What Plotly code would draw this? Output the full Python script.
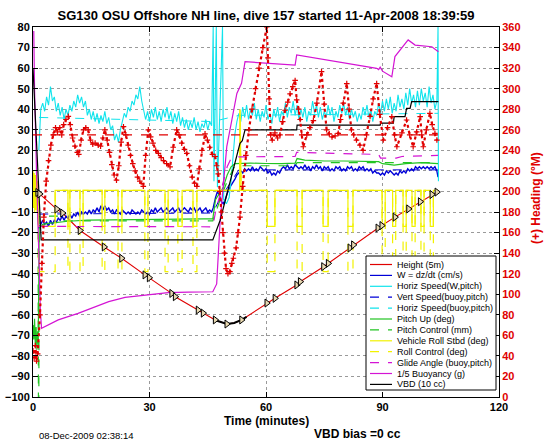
import plotly.graph_objects as go

# ---------------- data ----------------
depth_pts = [(0.2,0),(1.2,-0.5),(1.7,-1.2),(6.1,-8.6),(7.6,-10.5),(12.1,-19),(18.3,-27),(22.8,-32.5),
             (28.8,-40.6),(29.9,-42),(35.7,-49.6),(36.6,-51.2),(42.5,-57.7),(43.8,-59.2),(46.9,-62.5),
             (49.9,-64.5),(51.8,-64),(53.7,-62.5),(60.2,-54.3),(62.3,-52),(67.9,-45.5),(68.8,-43.9),
             (74.8,-36.6),(76,-35),(81.6,-27.5),(82.5,-26),(88.8,-17.8),(89.8,-16.6),(93.2,-12.5),
             (96.7,-8.5),(99.7,-5),(102.7,-1.5),(104.3,0)]
depth_marks = [(1.2,-0.5),(1.7,-1.2),(6.1,-8.6),(7.6,-10.5),(12.1,-19),(18.3,-27),(22.8,-32.5),
               (28.8,-40.6),(29.9,-42),(35.7,-49.6),(36.6,-51.2),(42.5,-57.7),(43.8,-59.2),(46.9,-62.5),
               (49.9,-64.5),(53.7,-62.5),(60.2,-54.3),(62.3,-52),(67.9,-45.5),(68.8,-43.9),(74.8,-36.6),
               (76,-35),(81.6,-27.5),(82.5,-26),(88.8,-17.8),(89.8,-16.6),(93.2,-12.5),(96.7,-8.5),
               (99.7,-5),(102.7,-1.5),(104.0,-0.3)]
bottom_pts = [(46.4,-62.3),(49.9,-64.5),(51.8,-64),(53.7,-62.5),(55,-61)]

w_t = [1,1.5,2,2.5,3,3.5,4,4.5,5,5.5,6,6.5,7,7.5,8,8.5,9,9.5,10,10.5,11,11.5,12,12.5,13,13.5,14,14.5,15,15.5,
       16,16.5,17,17.5,18,18.5,19,19.5,20,20.5,21,21.5,22,22.5,23,23.5,24,24.5,25,25.5,26,26.5,27,27.5,28,28.5,
       29,29.5,30,30.5,31,31.5,32,32.5,33,33.5,34,34.5,35,35.5,36,36.5,37,37.5,38,38.5,39,39.5,40,40.5,41,41.5,
       42,42.5,43,43.5,44,44.5,45,45.5,46,46.4,47,47.5,48,48.5,49,49.5,50,51,52,52.5,
       53,53.5,54,54.5,55,55.5,56,56.5,57,57.5,58,58.5,59,59.5,60,60.5,61,61.5,62,62.5,63,63.5,64,64.5,65,65.5,
       66,66.5,67,67.5,68,68.5,69,69.5,70,70.5,71,71.5,72,72.5,73,73.5,74,74.5,75,75.5,76,76.5,77,77.5,78,78.5,
       79,79.5,80,80.5,81,81.5,82,82.5,83,83.5,84,84.5,85,85.5,86,86.5,87,87.5,88,88.5,89,89.5,90,90.5,91,91.5,
       92,92.5,93,93.5,94,94.5,95,95.5,96,96.5,97,97.5,98,98.5,99,99.5,100,100.5,101,101.5,102,102.5,103,103.5,
       104,104.3]
w_v = [-4,-18,-16,-14,-16,-15,-17,-14,-16,-14,-15,-13,-14,-12,-14,-12,-13,-11,-13,-11,-12,-10,-12,-10,-11,-10,
       -11,-9,-11,-9,-10,-8,-10,-7,-9,-7,-9,-8,-10,-9,-11,-9,-10,-11,-9,-10,-11,-10,-11,-9,-10,-11,-10,-11,-9,-10,
       -11,-10,-11,-9,-10,-8,-10,-9,-8,-10,-9,-8,-10,-9,-8,-10,-9,-8,-10,-9,-8,-9,-10,-8,-9,-8,-10,-9,-8,-10,-9,
       -8,-10,-9,-10,-8,-3,0,-2,-5,-6,-4,-1,3,6,8,
       9,10,9,11,10,11,10,12,10,11,10,12,11,10,11,9,10,8,9,8,10,9,11,12,11,13,11,12,11,13,12,11,12,11,13,11,12,
       10,12,11,13,11,12,10,12,11,12,10,11,10,12,11,12,10,11,10,12,11,12,10,11,10,12,11,12,10,11,10,11,9,10,9,9,
       8,9,8,10,9,10,9,8,9,8,10,9,10,9,11,10,11,10,12,11,12,11,12,11,12,11,12,11,12,10,7]

cyan_t = [1.5,2,2.5,3,3.5,4,4.5,5,5.5,6,6.5,7,7.5,8,8.5,9,9.5,10,10.5,11,11.5,12,12.5,13,13.5,14,14.5,15,15.5,
          16,16.5,17,17.5,18,18.5,19,19.5,20,20.5,21,21.5,22,22.5,23,23.5,24,24.5,25,25.5,26,26.5,27,27.5,28,
          28.5,29,29.5,30,30.5,31,31.5,32,32.5,33,33.5,34,34.5,35,35.5,36,36.5,37,37.5,38,38.5,39,39.5,40,40.5,
          41,41.5,42,42.5,43,43.5,44,44.5,45,45.5,46,
          46.4,46.6,47.2,47.5,48.8,49.1,49.8,50.5,51,51.5,52,52.5,
          53,53.5,54,54.5,55,55.5,56,56.5,57,57.5,58,58.5,59,59.5,60,60.5,61,61.5,62,62.5,63,63.5,64,64.5,65,65.5,
          66,66.5,67,67.5,68,68.5,69,69.5,70,70.5,71,71.5,72,72.5,73,73.5,74,74.5,75,75.5,76,76.5,77,77.5,78,78.5,
          79,79.5,80,80.5,81,81.5,82,82.5,83,83.5,84,84.5,85,85.5,86,86.5,87,87.5,88,88.5,89,89.5,90,90.5,91,91.5,
          92,92.5,93,93.5,94,94.5,95,95.5,96,96.5,97,97.5,98,98.5,99,99.5,100,100.5,101,101.5,102,102.5,103,103.5,
          104,104.3,104.4]
cyan_v = [20,40,43,39,46,42,51,44,46,39,43,37,41,35,40,37,42,39,44,41,47,43,46,41,44,37,40,35,39,34,38,33,37,34,
          39,33,36,30,32,25,28,24,30,34,38,36,41,39,44,42,47,45,51,44,40,35,39,34,40,36,41,35,39,34,40,36,41,35,
          39,33,38,34,39,32,36,31,35,30,34,31,36,30,34,29,33,31,35,30,34,32,
          80,5,80,2,80,-4,-6,-3,5,18,28,34,
          38,34,41,36,42,35,40,37,43,35,40,34,39,36,42,35,38,33,40,36,41,34,39,37,43,36,41,38,44,37,42,35,40,36,
          41,34,39,37,44,38,42,36,41,35,39,36,42,37,41,34,39,36,42,38,43,37,41,35,40,36,39,34,38,35,41,37,42,36,
          40,34,39,37,43,38,44,39,45,40,46,38,43,39,47,41,45,40,48,42,50,43,47,41,49,42,50,44,48,41,51,43,47,40,
          44,80,5]

vbuoy_pts = [(1.6,-11),(46.3,-10.5),(48,-4),(50,2),(52,8),(53,10.5),(104.3,10.5)]
hbuoy_pts = [(1.6,36),(46.3,34),(53,37),(104.3,38)]

pitch_pts = [(0,-65),(0.2,-72),(0.4,-62),(0.6,-75),(0.8,-66),(1.0,-77),(1.2,-68),(1.35,-74),(1.6,-18),(2.5,-16),
             (4,-15.5),(6,-15),(9,-14.5),(14,-14),(20,-13.8),(26,-13.6),(32,-13.5),(38,-13.4),(44,-13.3),
             (46.3,-13.3),(47,-4),(48,-1),(49,2),(50,8),(51,12),(52,13.5),(56,13.8),(60,13.6),(64,13.5),
             (67.5,13.8),(68,16),(70,15.2),(75,14.8),(80,14.8),(85,14.6),(89,14.5),(90,13.5),(93,12.8),
             (96,13.5),(100,14),(104.3,13.5)]
pitch_ctrl_pts = [(0.8,-20),(1.3,-20),(1.4,-105),(1.5,-105),(1.6,-12),(6.5,-12),(7,-14.3),(46.3,-14.3),
                  (48,-5),(50,5),(52,12.5),(67.5,12.5),(68,14),(104.3,14)]

roll_start_pts = [(0,10),(0.15,-8),(0.3,9),(0.45,-10),(0.6,8),(0.75,-9),(0.9,10),(1.05,-10),(1.2,5)]
roll_ctrl_start_pts = [(0,-5),(1.3,-5)]
roll_spike_pts = [(53.2,0.5),(53.3,40),(53.5,15),(53.6,0.5)]
roll_dips = [(1.4,5.7),(9.0,9.5),(12.1,12.9),(17.8,18.5),(21.9,22.9),(28.8,29.6),(34.0,34.8),(37.3,38.4),
             (41.2,42.2),(60.3,62.3),(68.0,69.3),(74.7,76.0),(81.1,82.4),(89.9,90.7),(92.6,93.4),(95.3,96.1),
             (97.6,98.4),(99.9,100.7),(102.3,103.1)]
roll_end = 104.3
roll_level = 0.5
roll_dip_level = -17
roll_ctrl_dip_level = -39

glide_pts = [(1.6,-17),(46.3,-17.2),(47,-10),(48,-3),(49,5),(50,12),(51,16),(52,16.8),(67.5,17),(67.9,19),
             (89,18),(89.5,16.2),(93.5,16.2),(95,17),(104.3,17.5)]

buoy_pts = [(0.2,78),(0.4,50),(0.9,10),(1.4,-25),(1.9,-58),(2.2,-66.6),(6.5,-62.5),(11.6,-59.3),(15.9,-56),
            (19.5,-53.6),(23.7,-51.5),(28.8,-50.4),(34.8,-49.2),(40,-49),(46.3,-48.8),(47.3,-45),(48.2,-14),
            (49.9,21.8),(52.5,47.7),(53.7,52.6),(54.6,63.1),(67.5,61.5),(67.9,66.4),(88.5,59.9),(89.0,59.3),
            (89.4,60.5),(90.0,58.5),(92.4,55.8),(93.2,65.6),(96.6,73.7),(97.2,73.0),(98.4,71.2),(102.7,70.4),
            (104.4,68)]

vbd_pts = [(0,60),(2.1,-23.6),(46.3,-23.6),(48.2,-14),(53.3,23.4),(53.9,24.7),(54.6,30),(67.9,30),(68.0,32.3),
           (89.4,32.3),(89.5,33.2),(92.8,33.2),(93.0,36.4),(95.8,36.4),(96.2,40.4),(97.1,40.4),(97.5,43.7),
           (104.4,43.7)]

heading_pts = [(0.0,45),(0.3,38),(0.6,50),(0.9,35),(1.2,42),(1.8,80),(2.3,130),(2.8,175),(3.4,210),(4.0,230),
               (4.6,245),(5.2,255),(5.8,262),(6.3,258),(6.9,262),(7.4,255),(7.9,265),(8.5,270),(9.1,273),
               (9.6,265),(10.2,252),(10.8,244),(11.4,238),(11.8,236),(12.4,250),(13.0,260),(13.6,262),
               (14.2,260),(14.8,250),(15.4,246),(16.0,247),(16.8,245),(17.4,244),(18.0,252),(18.5,260),
               (19.1,250),(19.7,238),(20.3,226),(20.9,216),(21.5,211),(22.1,225),(22.7,248),(23.3,263),
               (23.9,255),(24.5,245),(25.1,235),(25.7,227),(26.3,220),(26.9,214),(27.5,210),(28.4,205),
               (29.0,235),(29.7,260),(30.3,253),(30.9,247),(31.6,240),(32.3,237),(33.0,233),(33.6,230),
               (34.4,227),(35.3,224),(36.1,243),(37.0,260),(37.6,255),(38.3,247),(39.0,241),(39.6,237),
               (40.3,225),(41.0,214),(41.6,208),(42.2,205),(42.8,222),(43.5,240),(44.3,256),(44.9,250),
               (45.5,243),(46.2,236),(46.9,234),(47.3,225),(47.7,217),(48.1,200),(48.5,180),(48.9,160),
               (49.3,140),(49.7,125),(50.2,120),(50.7,122),(51.2,130),(51.6,135),(52.3,145),(52.8,160),
               (53.3,175),(54.0,205),(54.8,235),(55.6,260),(56.4,280),(57.3,300),(58.2,320),(59.2,340),
               (60.2,360),(60.5,330),(60.8,290),(61.2,255),(61.6,250),(62.3,257),(63.0,252),(63.6,255),
               (64.3,268),(64.9,279),(65.6,287),(66.2,295),(66.9,302),(67.5,308),(67.9,289),(68.4,280),
               (68.8,270),(69.2,255),(69.6,243.5),(70.5,255),(71.3,262),(72.2,269),(73.1,286),(74.3,316.5),
               (75.0,285),(75.6,260),(76.3,256),(77.0,253),(77.8,254),(78.6,256.5),(79.2,270),(79.9,286),
               (80.8,305),(81.4,280),(82.0,260),(82.6,255),(83.3,250),(84.2,245),(85.0,240),(85.9,255),
               (86.8,273),(87.6,290),(88.5,305),(89.3,275),(90.2,250),(91.3,262),(92.4,272.7),(93.1,255),
               (93.7,243.5),(95.0,257),(96.2,269.5),(97.0,255),(97.9,243.5),(98.8,258),(99.7,272.7),
               (100.1,255),(100.5,243.5),(101.3,260),(102.2,276),(102.8,265),(103.5,256.5),(104.0,250)]
heading_target = 255
heading_target_span = [0.0, 104.3]

x_ticks = [0, 30, 60, 90, 120]
title_text = "SG130 OSU Offshore NH line, dive 157 started 11-Apr-2008 18:39:59"
date_text = "08-Dec-2009 02:38:14"
bias_text = "VBD bias =0 cc"

# ---------------- styling ----------------
RED = "#e00000"; BLUE = "#0000d8"; CYAN = "#10e4ec"; GREEN = "#22c422"
YELLOW = "#f2f200"; MAGENTA = "#d414d4"; BLACK = "#000000"
FONT = "Liberation Sans, Arial, Helvetica, sans-serif"


def unzip(pts):
    return [p[0] for p in pts], [p[1] for p in pts]


def square_wave(dips, start, end, top, low):
    xs, ys = [start], [low]
    for i, (a, b) in enumerate(dips):
        if i > 0:
            xs += [a]; ys += [top]
        xs += [a, b]; ys += [low, low]
        xs += [b]; ys += [top]
    xs += [end]; ys += [top]
    return xs[1:], ys[1:]


fig = go.Figure()


def add(pts_x, pts_y, color, width=1.0, dash="solid", yaxis="y"):
    fig.add_trace(go.Scatter(x=pts_x, y=pts_y, mode="lines", yaxis=yaxis, showlegend=False,
                             line=dict(color=color, width=width, dash=dash), hoverinfo="skip"))

dx, dy = unzip(depth_pts)
add(dx, dy, RED, 1.1)
add(w_t, w_v, BLUE, 1.4)
add(cyan_t, cyan_v, CYAN, 1.1)
x, y = unzip(vbuoy_pts); add(x, y, BLUE, 1.0, "dash")
x, y = unzip(hbuoy_pts); add(x, y, CYAN, 1.0, "dash")
x, y = unzip(pitch_pts); add(x, y, GREEN, 1.2)
x, y = unzip(pitch_ctrl_pts); add(x, y, GREEN, 1.2, "dash")

rx, ry = square_wave(roll_dips, roll_dips[0][0], roll_end, roll_level, roll_dip_level)
sx, sy = unzip(roll_start_pts)
kx, ky = unzip(roll_spike_pts)
allr = sorted(list(zip(sx + rx, sy + ry)) + list(zip(kx, ky)), key=lambda p: p[0])
add([p[0] for p in allr], [p[1] for p in allr], YELLOW, 1.2)
cx, cy = square_wave(roll_dips, roll_dips[0][0], roll_end, roll_level, roll_ctrl_dip_level)
csx, csy = unzip(roll_ctrl_start_pts)
allc = sorted(list(zip(csx + cx, csy + cy)) + list(zip(kx, ky)), key=lambda p: p[0])
add([p[0] for p in allc], [p[1] for p in allc], YELLOW, 1.2, "dash")

x, y = unzip(glide_pts); add(x, y, MAGENTA, 1.2, "dash")
x, y = unzip(buoy_pts); add(x, y, MAGENTA, 1.2)
x, y = unzip(vbd_pts); add(x, y, BLACK, 1.2)

x, y = unzip(bottom_pts); add(x, y, BLACK, 2.0)
mx, my = unzip(depth_marks)
fig.add_trace(go.Scatter(x=mx, y=my, mode="markers", showlegend=False, hoverinfo="skip",
                         marker=dict(symbol="triangle-right", size=7, color="#e8d8b0",
                                     line=dict(color=BLACK, width=1))))

fig.add_trace(go.Scatter(x=heading_target_span, y=[heading_target] * 2, mode="lines", yaxis="y2",
                         showlegend=False, hoverinfo="skip",
                         line=dict(color=RED, width=1.2, dash="dash")))
hx, hy = unzip(heading_pts)
fig.add_trace(go.Scatter(x=hx, y=hy, mode="lines+markers", yaxis="y2", showlegend=False, hoverinfo="skip",
                         line=dict(color=RED, width=2.2, dash="dot"),
                         marker=dict(symbol="cross-thin", size=4, color=RED, line=dict(color=RED, width=1.2))))

# ---------------- layout ----------------
L, R, T, B = 33, 47, 27, 45
W, H = 546, 442
pw, ph = W - L - R, H - T - B

def px(xp):
    return (xp - L) / pw

def py(yp):
    return (H - B - yp) / ph

tickfont = dict(family=FONT, size=11, color="black", weight="bold")
fig.update_layout(
    width=W, height=H, autosize=False,
    margin=dict(l=L, r=R, t=T, b=B, pad=0, autoexpand=False),
    paper_bgcolor="white", plot_bgcolor="white",
    showlegend=False,
    title=dict(text=title_text, x=0.5, xref="paper", xanchor="center", y=1 - 15 / H, yanchor="middle",
               automargin=False, font=dict(family=FONT, size=13, color="black", weight="bold")),
    xaxis=dict(range=[0, 120], tickvals=x_ticks, ticks="inside", ticklen=5, tickcolor="black",
               showline=True, linecolor="black", linewidth=1, mirror="ticks", automargin=False,
               showgrid=True, gridcolor="#9a9a9a", griddash="dot", gridwidth=1,
               tickfont=tickfont, zeroline=False),
    yaxis=dict(range=[-100, 80], dtick=10, ticks="inside", ticklen=5, tickcolor="black",
               showline=True, linecolor="black", linewidth=1, mirror=True, automargin=False,
               showgrid=True, gridcolor="#9a9a9a", griddash="dot", gridwidth=1,
               tickfont=tickfont, zeroline=False),
    yaxis2=dict(range=[0, 360], dtick=20, overlaying="y", side="right", ticks="inside", ticklen=5,
                tickcolor="black", showline=True, linecolor="black", linewidth=1, showgrid=False,
                automargin=False, zeroline=False,
                tickfont=dict(family=FONT, size=11, color=RED, weight="bold")),
)

ann = []
ann.append(dict(text="Time (minutes)", x=px(266), y=py(421), xref="paper", yref="paper", showarrow=False,
                font=dict(family=FONT, size=12, color="black", weight="bold"), xanchor="center", yanchor="middle"))
ann.append(dict(text=date_text, x=px(86), y=py(435), xref="paper", yref="paper", showarrow=False,
                font=dict(family=FONT, size=9.5, color="black"), xanchor="center", yanchor="middle"))
ann.append(dict(text=bias_text, x=px(357), y=py(434), xref="paper", yref="paper", showarrow=False,
                font=dict(family=FONT, size=12, color="black", weight="bold"), xanchor="center", yanchor="middle"))
ann.append(dict(text="(+) Heading (°M)", x=px(536), y=py(198), xref="paper", yref="paper", showarrow=False,
                textangle=-90, font=dict(family=FONT, size=12, color=RED, weight="bold"),
                xanchor="center", yanchor="middle"))

legend_items = [("Height (5m)", RED, "solid"), ("W = dz/dt (cm/s)", BLUE, "solid"),
                ("Horiz Speed(W,pitch)", CYAN, "solid"), ("Vert Speed(buoy,pitch)", BLUE, "dash"),
                ("Horiz Speed(buoy,pitch)", CYAN, "dash"), ("Pitch Up (deg)", GREEN, "solid"),
                ("Pitch Control (mm)", GREEN, "dash"), ("Vehicle Roll Stbd (deg)", YELLOW, "solid"),
                ("Roll Control (deg)", YELLOW, "dash"), ("Glide Angle (buoy,pitch)", MAGENTA, "dash"),
                ("1/5 Buoyancy (g)", MAGENTA, "solid"), ("VBD (10 cc)", BLACK, "solid")]
shapes = [dict(type="rect", xref="paper", yref="paper", x0=px(366), x1=px(496), y0=py(390), y1=py(256),
               line=dict(color="black", width=1), fillcolor="white", layer="above")]
row0, rstep = 264.5, 10.9
for i, (name, col, dash) in enumerate(legend_items):
    yy = row0 + i * rstep
    shapes.append(dict(type="line", xref="paper", yref="paper", x0=px(370), x1=px(392), y0=py(yy), y1=py(yy),
                       line=dict(color=col, width=1.2, dash=dash), layer="above"))
    ann.append(dict(text=name, x=px(395), y=py(yy), xref="paper", yref="paper", showarrow=False,
                    font=dict(family=FONT, size=9, color="black"), xanchor="left", yanchor="middle"))

fig.update_layout(annotations=ann, shapes=shapes)
fig.write_html("out.html", config={"displayModeBar": False},
               post_script="document.body.style.margin='0';document.body.style.overflow='hidden';")
